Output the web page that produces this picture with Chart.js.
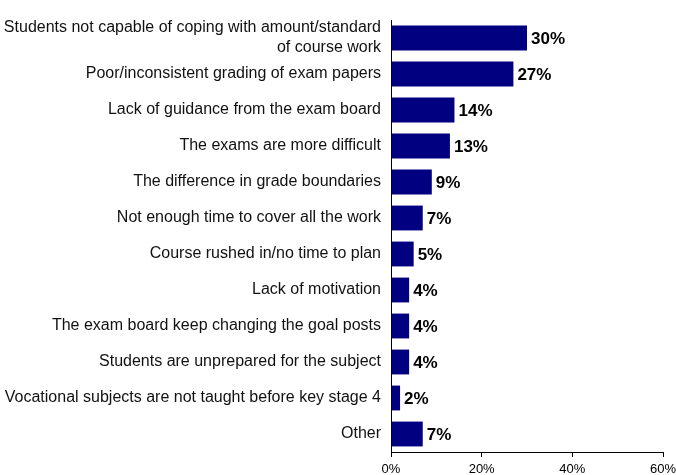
<!DOCTYPE html>
<html>
<head>
<meta charset="utf-8">
<script src="https://cdn.jsdelivr.net/npm/chart.js@4"></script>
<style>
  html, body { margin: 0; padding: 0; background: #fff; }
  #wrap { width: 676px; height: 475px; }
</style>
</head>
<body>
<div id="wrap"><canvas id="myChart" width="676" height="475"></canvas></div>
<script>
var categories = [
    ["Students not capable of coping with amount/standard", "of course work"],
    "Poor/inconsistent grading of exam papers",
    "Lack of guidance from the exam board",
    "The exams are more difficult",
    "The difference in grade boundaries",
    "Not enough time to cover all the work",
    "Course rushed in/no time to plan",
    "Lack of motivation",
    "The exam board keep changing the goal posts",
    "Students are unprepared for the subject",
    "Vocational subjects are not taught before key stage 4",
    "Other"
];
var percentages = [30, 27, 14, 13, 9, 7, 5, 4, 4, 4, 2, 7];
var xTicks = [0, 20, 40, 60];

// labels at the end of each bar
var barLabels = {
    id: "barLabels",
    afterDatasetsDraw: function (chart) {
        var ctx = chart.ctx;
        var meta = chart.getDatasetMeta(0);
        ctx.save();
        ctx.font = "bold 17px 'Liberation Sans', Arial, sans-serif";
        ctx.fillStyle = "#000";
        ctx.textBaseline = "middle";
        ctx.textAlign = "left";
        meta.data.forEach(function (bar, i) {
            ctx.fillText(percentages[i] + "%", bar.x + 4, bar.y + 1);
        });
        ctx.restore();
    }
};

var canvas = document.getElementById("myChart").getContext("2d");
window.bar = new Chart(canvas, {
    type: "bar",
    data: {
        labels: categories,
        datasets: [{
            label: "Percentage",
            backgroundColor: "#000080",
            data: percentages,
            barPercentage: 0.69,
            categoryPercentage: 1.0
        }]
    },
    plugins: [barLabels],
    options: {
        indexAxis: "y",
        responsive: false,
        animation: false,
        layout: { padding: { top: 20, right: 13, left: 0, bottom: 0 } },
        plugins: {
            legend: { display: false },
            title: { display: false },
            tooltip: { enabled: false }
        },
        scales: {
            x: {
                min: 0,
                max: 60,
                afterBuildTicks: function (axis) {
                    axis.ticks = xTicks.map(function (v) { return { value: v }; });
                },
                afterFit: function (axis) {
                    axis.height = 23;
                    axis.paddingLeft = 0;
                    axis.paddingRight = 0;
                },
                ticks: {
                    color: "#000",
                    padding: 5,
                    maxRotation: 0,
                    font: { family: "'Liberation Sans', Arial, sans-serif", size: 13 },
                    callback: function (v) { return v + "%"; }
                },
                grid: { drawOnChartArea: false, tickLength: 5, color: "#000" },
                border: { display: true, color: "#000", width: 1 }
            },
            y: {
                afterFit: function (axis) {
                    axis.width = 391;
                    axis.paddingTop = 0;
                    axis.paddingBottom = 0;
                },
                ticks: {
                    color: "#111",
                    padding: 10,
                    autoSkip: false,
                    font: { family: "'Liberation Sans', Arial, sans-serif", size: 16, lineHeight: 1.25 }
                },
                grid: { drawOnChartArea: false, drawTicks: false },
                border: { display: true, color: "#000", width: 1 }
            }
        }
    }
});
</script>
</body>
</html>
